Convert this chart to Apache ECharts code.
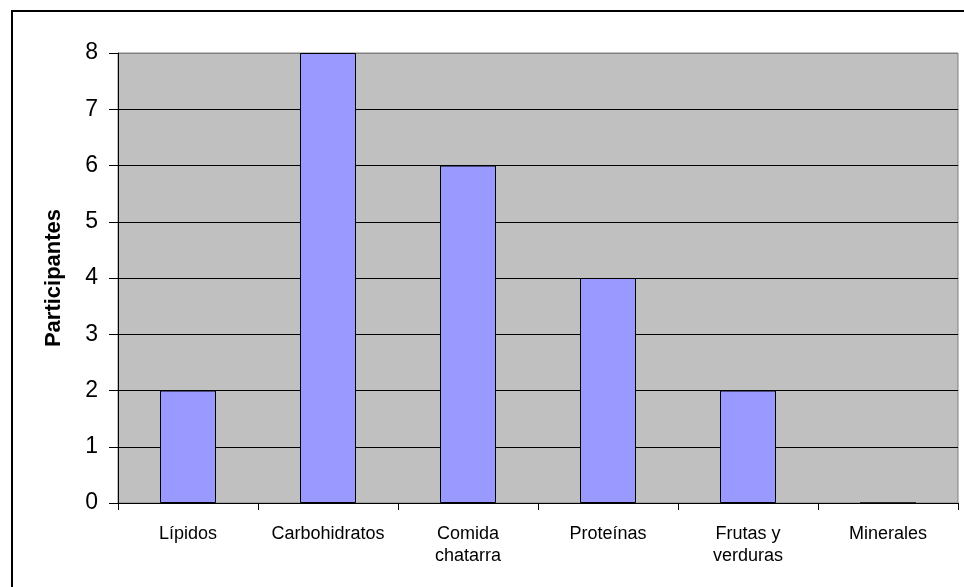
<!DOCTYPE html>
<html>
<head>
<meta charset="utf-8">
<script src="https://cdn.jsdelivr.net/npm/echarts@6/dist/echarts.min.js"></script>
<style>
  html, body { margin: 0; padding: 0; background: #fff; }
  #chart { width: 964px; height: 587px; }
</style>
</head>
<body>
<div id="chart"></div>
<script>
// Categorías de alimentos y número de participantes
const categorias = ['Lípidos', 'Carbohidratos', 'Comida\nchatarra', 'Proteínas', 'Frutas y\nverduras', 'Minerales'];
const participantes = [2, 8, 6, 4, 2, 0];
const ejeY = { min: 0, max: 8, intervalo: 1 };
const tituloEjeY = 'Participantes';

const chart = echarts.init(document.getElementById('chart'));

// Líneas de cuadrícula negras, la superior queda gris como el borde del área
const coloresCuadricula = [];
for (let v = ejeY.min; v <= ejeY.max; v += ejeY.intervalo) {
  coloresCuadricula.push(v === ejeY.max ? '#808080' : '#000000');
}

const fuente = 'Liberation Sans, Arial, sans-serif';

chart.setOption({
  animation: false,
  backgroundColor: '#ffffff',
  textStyle: { fontFamily: fuente },
  graphic: [{
    type: 'rect',
    shape: { x: 12, y: 11, width: 1200, height: 1200 },
    style: { fill: 'none', stroke: '#000', lineWidth: 2 },
    silent: true
  }],
  grid: {
    left: 118, right: 6, top: 53, bottom: 84,
    show: true,
    backgroundColor: '#C0C0C0',
    borderColor: '#808080',
    borderWidth: 1
  },
  xAxis: {
    type: 'category',
    data: categorias,
    axisLine: { lineStyle: { color: '#000', width: 1 } },
    axisTick: { show: true, interval: 0, length: 7, lineStyle: { color: '#000' } },
    axisLabel: {
      interval: 0, hideOverlap: false,
      color: '#000', fontSize: 18, lineHeight: 22, margin: 20,
      fontFamily: fuente
    },
    splitLine: { show: false }
  },
  yAxis: {
    type: 'value',
    min: ejeY.min, max: ejeY.max, interval: ejeY.intervalo,
    name: tituloEjeY,
    nameLocation: 'middle',
    nameGap: 53,
    nameTextStyle: {
      color: '#000', fontSize: 22, fontWeight: 'bold',
      fontFamily: fuente
    },
    axisLine: { show: true, lineStyle: { color: '#000', width: 1 } },
    axisTick: { show: true, length: 9, lineStyle: { color: '#000' } },
    axisLabel: {
      color: '#000', fontSize: 23, margin: 20,
      fontFamily: fuente
    },
    splitLine: { show: true, lineStyle: { color: coloresCuadricula, width: 1 } }
  },
  series: [{
    type: 'bar',
    data: participantes,
    barWidth: '40%',
    itemStyle: { color: '#9999FF', borderColor: '#000', borderWidth: 1 }
  }]
});
</script>
</body>
</html>
